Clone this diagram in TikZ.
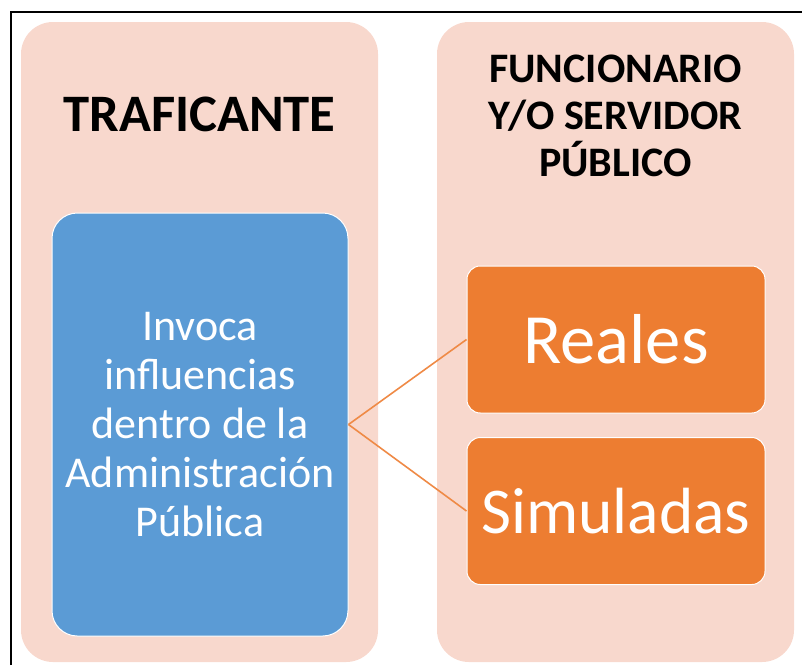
\documentclass[tikz,border=0pt]{standalone}
\usepackage{fontspec}
\setmainfont{Carlito}
\usepackage{xcolor}
\definecolor{panel}{HTML}{f8d8cd}
\definecolor{blue}{HTML}{5b9bd5}
\definecolor{orange}{HTML}{ed7d31}

\begin{document}
\begin{tikzpicture}[x=0.75pt,y=0.75pt,yscale=-1,xscale=1,
	panel/.style={fill=panel, rounded corners=24pt, inner sep=0pt, minimum width=267.75pt, minimum height=480pt},
	titulo/.style={font=\bfseries\fontsize{39.5}{44}\selectfont, align=center, inner sep=0pt},
	subtitulo/.style={font=\bfseries\fontsize{31.5}{35.25}\selectfont, align=center, inner sep=0pt},
	caja/.style={fill=blue, draw=white, line width=0.75pt, rounded corners=19pt, text=white, align=center, inner sep=0pt, minimum width=222pt, minimum height=317.25pt, font=\fontsize{33}{36.75}\selectfont},
	opcion/.style={fill=orange, draw=white, line width=0.75pt, rounded corners=10pt, text=white, inner sep=0pt, minimum width=223.5pt, minimum height=110.25pt, font=\fontsize{51}{60}\selectfont},
	conector/.style={draw=orange!90!white, line width=1.2pt}]
	\useasboundingbox (0,0) rectangle (802,665);
	\draw [line width=1.5pt] (11,665) -- (11,12) -- (802,12) ;
	% paneles
	\node [panel] (izq) at (199.5,342) {};
	\node [panel] (der) at (615.5,342) {};
	\node [titulo] (traficante) at (199.5,114) {TRAFICANTE};
	\node [subtitulo] (funcionario) at (615.5,116) {FUNCIONARIO\\Y/O SERVIDOR\\PÚBLICO};
	% cajas
	\node [caja] (invoca) at (200,424.5) {Invoca\\influencias\\dentro de la\\Administración\\Pública};
	\node [opcion] (reales) at (616,339.5) {\fontsize{53}{60}\selectfont Reales};
	\node [opcion] (simuladas) at (616,511) {\fontsize{49}{60}\selectfont Simuladas};
	\draw [conector] (invoca.east) -- (reales.west) ;
	\draw [conector] (invoca.east) -- (simuladas.west) ;
\end{tikzpicture}
\end{document}
